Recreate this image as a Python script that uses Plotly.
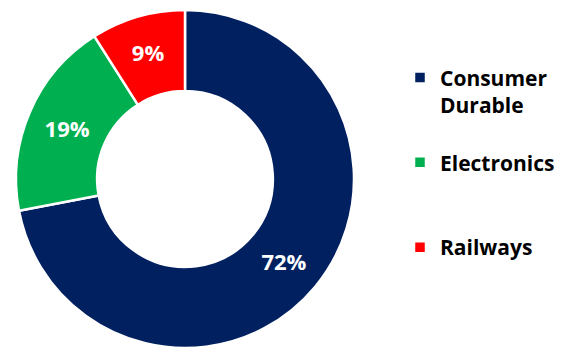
import plotly.graph_objects as go

categories = ["Consumer<br>Durable<br> ", "Electronics<br> <br> ", "Railways"]
values = [72, 19, 9]
colors = ["#002060", "#00B050", "#FF0000"]

W, H = 577, 348
cx, r = 185, 169

fig = go.Figure(go.Pie(
    labels=categories,
    values=values,
    hole=0.52,
    sort=False,
    direction="clockwise",
    rotation=0,
    marker=dict(colors=colors, line=dict(color="white", width=2.5)),
    textinfo="percent",
    texttemplate="%{percent:.0%}",
    textposition="inside",
    insidetextorientation="horizontal",
    textfont=dict(family="Open Sans", size=22, color="white", weight="bold"),
    domain=dict(x=[(cx - r) / W, (cx + r) / W], y=[0, 1]),
))

fig.update_layout(
    width=W, height=H,
    margin=dict(l=0, r=0, t=10, b=0),
    paper_bgcolor="white",
    plot_bgcolor="white",
    showlegend=True,
    legend=dict(
        x=400 / W, xanchor="left",
        y=0.86, yanchor="top",
        valign="top",
        font=dict(family="Open Sans", size=21, color="black", weight="bold"),
        itemclick=False,
        tracegroupgap=0,
    ),
)

fig.write_html("out.html")
